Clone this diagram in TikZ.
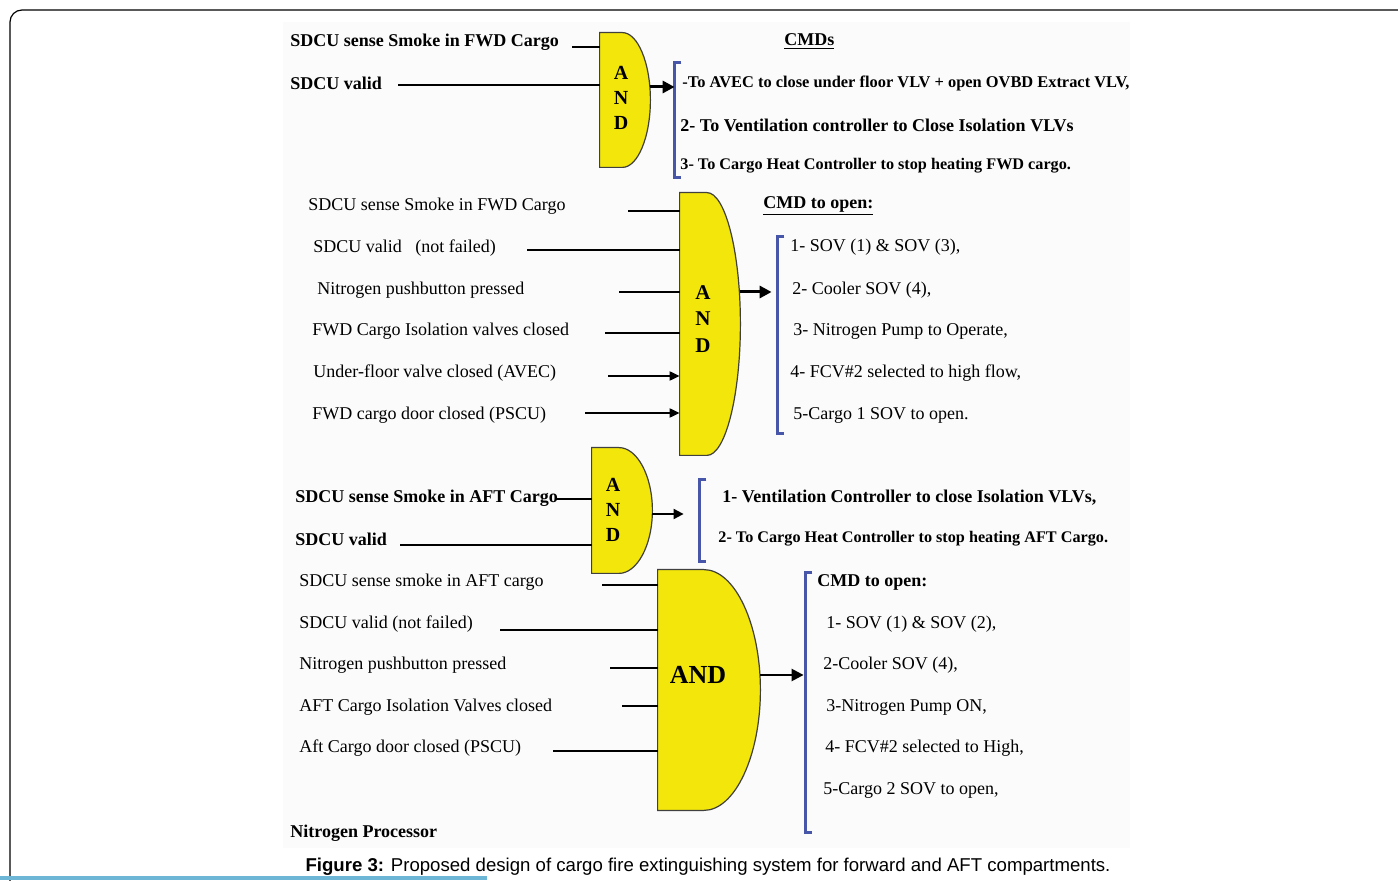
\documentclass[tikz,border=0pt]{standalone}
\usepackage{fontspec}
\setmainfont{Liberation Serif}
\newfontfamily\capfont{Liberation Sans}
\usetikzlibrary{arrows.meta,calc}
\definecolor{gateyellow}{RGB}{242,230,10}
\definecolor{brblue}{RGB}{72,86,170}
\definecolor{rulecyan}{RGB}{110,182,214}

\begin{document}
\begin{tikzpicture}[x=0.5pt, y=-0.5pt,
  lbl/.style={anchor=west, inner sep=0pt, yshift=-1pt, font=\fontsize{9}{11}\selectfont},
  blbl/.style={lbl, font=\fontsize{9}{11}\selectfont\bfseries},
  small/.style={font=\fontsize{8.1}{10}\selectfont\bfseries},
  gatebox/.style={inner sep=0pt},
  gatetext/.style={inner sep=0pt, align=center, font=\fontsize{10}{12.5}\selectfont\bfseries},
  gateshape/.style={fill=gateyellow, draw=black!75, line width=0.6pt},
  wire/.style={line width=1pt},
  inarrow/.style={wire, -{Triangle[length=5pt,width=4.5pt]}},
  outarrow/.style={line width=1.5pt, -{Triangle[length=6pt,width=6pt]}},
  brk/.style={inner sep=0pt, minimum width=3pt},
  brkline/.style={draw=brblue, line width=1.8pt}]
  \useasboundingbox (0,0) rectangle (1398,881);

  % page frame and pasted figure
  \draw[line width=0.6pt, rounded corners=6pt] (10,881) -- (10,10) -- (1398,10);
  \draw[rulecyan, line width=2pt] (0,878) -- (487,878);
  \fill[black!1.5] (283,22) rectangle (1130,848);

  % gates
  \node[gatebox, minimum width=25pt, minimum height=67pt] (g1) at (625,100) {};
  \node[gatebox, minimum width=30pt, minimum height=131pt] (g2) at (710,324) {};
  \node[gatebox, minimum width=30pt, minimum height=62.5pt] (g3) at (622,510.5) {};
  \node[gatebox, minimum width=51pt, minimum height=120pt] (g4) at (709,690) {};
  \foreach \g in {g1,g2,g3,g4}
    \draw[gateshape] (\g.north west) -- ($(\g.north west)!0.45!(\g.north east)$)
      .. controls ($(\g.north west)!0.75!(\g.north east)$) and ($(\g.east)!0.55!(\g.north east)$) .. (\g.east)
      .. controls ($(\g.east)!0.55!(\g.south east)$) and ($(\g.south west)!0.75!(\g.south east)$) .. ($(\g.south west)!0.45!(\g.south east)$)
      -- (\g.south west) -- cycle;
  \node[gatetext] (and1) at (621,98) {A\\N\\D};
  \node[gatetext, font=\fontsize{10.5}{13.2}\selectfont\bfseries] (and2) at (703,319) {A\\N\\D};
  \node[gatetext] (and3) at (613,510) {A\\N\\D};
  \node[gatetext, font=\fontsize{13}{15}\selectfont\bfseries] (and4) at (698,675) {AND};

  % brackets
  \node[brk, minimum height=57pt] (b1) at (678,120) {};
  \node[brk, minimum height=98pt] (b2) at (781,335) {};
  \node[brk, minimum height=40.5pt] (b3) at (703,520.5) {};
  \node[brk, minimum height=129.5pt] (b4) at (809,702.5) {};
  \foreach \b in {b1,b2,b3,b4}
    \draw[brkline] (\b.north east) -- (\b.north west) -- (\b.south west) -- (\b.south east);

  % first block: FWD smoke
  \node[blbl] (s1a) at (290,40) {SDCU sense Smoke in FWD Cargo};
  \node[blbl] (s1b) at (290,81) {SDCU valid};
  \coordinate (f1a) at (572,47);
  \coordinate (f1b) at (398,85);
  \draw[wire] (f1a) -- (g1.west |- f1a);
  \draw[wire, line width=1.3pt] (f1b) -- (g1.west |- f1b);
  \draw[outarrow] (g1.east |- 0,87) -- (b1.west |- 0,87);
  \node[blbl] (cmds) at (784,40) {\underline{CMDs}};
  \node[blbl, small, font=\fontsize{8.2}{10}\selectfont\bfseries] (c1a) at (682,81) {-To AVEC to close under floor VLV + open OVBD Extract VLV,};
  \node[blbl] (c1b) at (680,123) {2- To Ventilation controller to Close Isolation VLVs};
  \node[blbl, small] (c1c) at (680,164) {3- To Cargo Heat Controller to stop heating FWD cargo.};

  % second block: FWD nitrogen
  \node[lbl] (s2a) at (308,204) {SDCU sense Smoke in FWD Cargo};
  \node[lbl] (s2b) at (313,246) {SDCU valid\ \ \ (not failed)};
  \node[lbl] (s2c) at (317,288) {Nitrogen pushbutton pressed};
  \node[lbl] (s2d) at (312,329) {FWD Cargo Isolation valves closed};
  \node[lbl] (s2e) at (313,371) {Under-floor valve closed (AVEC)};
  \node[lbl] (s2f) at (312,413) {FWD cargo door closed (PSCU)};
  \coordinate (f2a) at (628,211);
  \coordinate (f2b) at (527,250);
  \coordinate (f2c) at (619,292);
  \coordinate (f2d) at (605,333);
  \coordinate (f2e) at (608,376);
  \coordinate (f2f) at (585,413);
  \foreach \f in {f2a,f2b,f2c,f2d}
    \draw[wire] (\f) -- (g2.west |- \f);
  \foreach \f in {f2e,f2f}
    \draw[inarrow] (\f) -- (g2.west |- \f);
  \draw[outarrow] (g2.east |- 0,292) -- ([xshift=-3pt]b2.west |- 0,292);
  \node[blbl] (cmd2) at (763,204) {\underline{CMD to open:}};
  \node[lbl] (c2a) at (790,245) {1- SOV (1) \& SOV (3),};
  \node[lbl] (c2b) at (792,288) {2- Cooler SOV (4),};
  \node[lbl] (c2c) at (793,329) {3- Nitrogen Pump to Operate,};
  \node[lbl] (c2d) at (790,371) {4- FCV\#2 selected to high flow,};
  \node[lbl] (c2e) at (793,413) {5-Cargo 1 SOV to open.};

  % third block: AFT smoke
  \node[blbl] (s3a) at (295,496) {SDCU sense Smoke in AFT Cargo};
  \node[blbl] (s3b) at (295,537) {SDCU valid};
  \coordinate (f3a) at (556,499);
  \coordinate (f3b) at (400,545);
  \draw[wire] (f3a) -- (g3.west |- f3a);
  \draw[wire, line width=1.3pt] (f3b) -- (g3.west |- f3b);
  \draw[wire, -{Triangle[length=5pt,width=5pt]}] (g3.east |- 0,514) -- ([xshift=-8pt]b3.west |- 0,514);
  \node[blbl] (c3a) at (722,496) {1- Ventilation Controller to close Isolation VLVs,};
  \node[blbl, small] (c3b) at (718,537) {2- To Cargo Heat Controller to stop heating AFT Cargo.};

  % fourth block: AFT nitrogen
  \node[lbl] (s4a) at (299,580) {SDCU sense smoke in AFT cargo};
  \node[lbl] (s4b) at (299,622) {SDCU valid (not failed)};
  \node[lbl] (s4c) at (299,663) {Nitrogen pushbutton pressed};
  \node[lbl] (s4d) at (299,705) {AFT Cargo Isolation Valves closed};
  \node[lbl] (s4e) at (299,746) {Aft Cargo door closed (PSCU)};
  \coordinate (f4a) at (602,585);
  \coordinate (f4b) at (500,630);
  \coordinate (f4c) at (610,668);
  \coordinate (f4d) at (622,706);
  \coordinate (f4e) at (553,751);
  \foreach \f in {f4a,f4b,f4c,f4d,f4e}
    \draw[wire] (\f) -- (g4.west |- \f);
  \draw[outarrow, line width=1.2pt] (g4.east |- 0,675) -- ([xshift=-1pt]b4.west |- 0,675);
  \node[blbl] (cmd4) at (817,580) {CMD to open:};
  \node[lbl] (c4a) at (826,622) {1- SOV (1) \& SOV (2),};
  \node[lbl] (c4b) at (823,663) {2-Cooler SOV (4),};
  \node[lbl] (c4c) at (826,705) {3-Nitrogen Pump ON,};
  \node[lbl] (c4d) at (825,746) {4- FCV\#2 selected to High,};
  \node[lbl] (c4e) at (823,788) {5-Cargo 2 SOV to open,};

  \node[blbl] (proc) at (290,831) {Nitrogen Processor};
  \node[font=\capfont\fontsize{9.3}{11}\selectfont] (cap) at (708,867)
    {\textbf{Figure 3:} Proposed design of cargo fire extinguishing system for forward and AFT compartments.};
\end{tikzpicture}
\end{document}
